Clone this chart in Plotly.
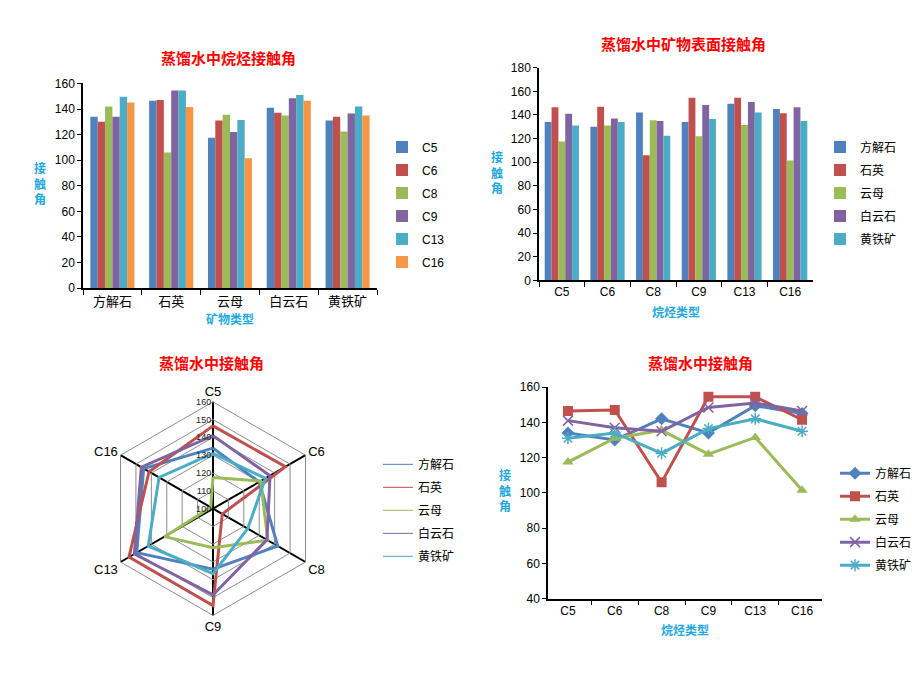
import plotly.graph_objects as go

# ---------------- data ----------------
alkanes = ["C5", "C6", "C8", "C9", "C13", "C16"]
minerals = ["方解石", "石英", "云母", "白云石", "黄铁矿"]

calcite = [134, 130, 142, 134, 149.5, 145]      # 方解石
quartz = [146.5, 147, 106, 154.5, 154.5, 141.5]  # 石英
mica = [117.5, 131, 135.5, 122, 131.5, 101.5]    # 云母
dolomite = [141, 137, 135, 148.5, 151, 146.5]    # 白云石
pyrite = [131, 134, 122.5, 136.5, 142, 135]      # 黄铁矿

mineral_values = [calcite, quartz, mica, dolomite, pyrite]

alkane_colors = ["#4F81BD", "#C0504D", "#9BBB59", "#8064A2", "#4BACC6", "#F79646"]
mineral_colors = ["#4F81BD", "#C0504D", "#9BBB59", "#8064A2", "#4BACC6"]
markers = ["diamond", "square", "triangle-up", "x-thin", "asterisk"]

W, H = 920, 690
FONT = "Liberation Sans, Noto Sans CJK SC, sans-serif"
CJK = "Noto Sans CJK SC, sans-serif"
TITLE_COLOR = "#FF0000"
AXT_COLOR = "#1FA8E0"


def px(x):
    return x / W


def py(y):
    return 1 - y / H


fig = go.Figure()

# ---- chart 1: bars by mineral, series = alkanes ----
for j, alk in enumerate(alkanes):
    fig.add_trace(go.Bar(
        x=minerals, y=[vals[j] for vals in mineral_values], name=alk,
        marker=dict(color=alkane_colors[j], line=dict(width=0)),
        xaxis="x", yaxis="y", legend="legend",
        legendgroup="a" + alk,
    ))

# ---- chart 2: bars by alkane, series = minerals ----
for i, m in enumerate(minerals):
    fig.add_trace(go.Bar(
        x=alkanes, y=mineral_values[i], name=m,
        marker=dict(color=mineral_colors[i], line=dict(width=0)),
        xaxis="x2", yaxis="y2", legend="legend2",
        legendgroup="b" + m,
    ))

# ---- chart 3: radar ----
for i, m in enumerate(minerals):
    r = mineral_values[i] + [mineral_values[i][0]]
    th = alkanes + [alkanes[0]]
    # thin legend-entry trace (hidden beneath the thick one)
    fig.add_trace(go.Scatterpolar(
        r=r, theta=th, mode="lines", name=m,
        line=dict(color=mineral_colors[i], width=1),
        subplot="polar", legend="legend3", legendgroup="c" + m,
    ))
for i, m in enumerate(minerals):
    r = mineral_values[i] + [mineral_values[i][0]]
    th = alkanes + [alkanes[0]]
    fig.add_trace(go.Scatterpolar(
        r=r, theta=th, mode="lines", name=m, showlegend=False,
        line=dict(color=mineral_colors[i], width=3),
        subplot="polar", legendgroup="c" + m,
    ))

# ---- chart 4: lines ----
for i, m in enumerate(minerals):
    sym = markers[i]
    mk = dict(symbol=sym, size=10, color=mineral_colors[i])
    if sym in ("x-thin", "asterisk"):
        mk["line"] = dict(color=mineral_colors[i], width=1.5)
    fig.add_trace(go.Scatter(
        x=alkanes, y=mineral_values[i], name=m, mode="lines+markers",
        line=dict(color=mineral_colors[i], width=3),
        marker=mk,
        xaxis="x3", yaxis="y3", legend="legend4",
        legendgroup="d" + m,
    ))


def xax(domain, anchor, size=12):
    return dict(domain=domain, anchor=anchor, type="category",
                showline=True, linecolor="#000", linewidth=1.5,
                ticks="outside", ticklen=5, tickcolor="#000", tickwidth=1,
                tickson="boundaries", showgrid=False, zeroline=False,
                tickfont=dict(family=FONT, size=size, color="#000"))


def yax(domain, anchor, rng):
    return dict(domain=domain, anchor=anchor, range=rng, dtick=20,
                showline=True, linecolor="#000", linewidth=1.5,
                ticks="outside", ticklen=4, tickcolor="#000", tickwidth=1,
                showgrid=False, zeroline=False,
                tickfont=dict(family=FONT, size=12, color="#000"))


leg_common = dict(xanchor="left", yanchor="top", bgcolor="rgba(0,0,0,0)",
                  traceorder="grouped", tracegroupgap=4, itemwidth=30,
                  font=dict(family=FONT, size=12, color="#000"))

fig.update_layout(
    width=W, height=H, margin=dict(l=0, r=0, t=0, b=0),
    paper_bgcolor="white", plot_bgcolor="white",
    barmode="group", bargap=0.25, bargroupgap=0,
    xaxis=xax([px(83), px(377)], "y", 13),
    yaxis=yax([py(287), py(78)], "x", [0, 160]),
    xaxis2=xax([px(539), px(813)], "y2"),
    yaxis2=yax([py(279), py(62)], "x2", [0, 180]),
    xaxis3=xax([px(548), px(822)], "y3"),
    yaxis3=yax([py(604), py(388)], "x3", [40, 160]),
    polar=dict(
        domain=dict(x=[px(104), px(322)], y=[py(621), py(403)]),
        gridshape="linear", bgcolor="white",
        radialaxis=dict(range=[100, 160], dtick=10, angle=90, tickangle=90,
                        showline=False, ticks="", gridcolor="#8c8c8c",
                        gridwidth=1, side="counterclockwise",
                        tickfont=dict(family=FONT, size=9, color="#222")),
        angularaxis=dict(rotation=90, direction="clockwise",
                         categoryorder="array", categoryarray=alkanes,
                         showline=True, linecolor="#8c8c8c", linewidth=1,
                         gridcolor="#000", gridwidth=1.5, ticks="",
                         tickfont=dict(family=FONT, size=13, color="#000")),
    ),
    legend=dict(x=px(382), y=py(128), **leg_common),
    legend2=dict(x=px(820), y=py(128), **leg_common),
    legend3=dict(x=px(378), y=py(452), **leg_common),
    legend4=dict(x=px(835), y=py(461), **leg_common),
    showlegend=True,
)

annotations = [
    # titles
    dict(text="<b>蒸馏水中烷烃接触角</b>", x=px(228), y=py(52)),
    dict(text="<b>蒸馏水中矿物表面接触角</b>", x=px(683), y=py(37)),
    dict(text="<b>蒸馏水中接触角</b>", x=px(211), y=py(363)),
    dict(text="<b>蒸馏水中接触角</b>", x=px(700), y=py(363)),
]
for a in annotations:
    a.update(xref="paper", yref="paper", showarrow=False,
             font=dict(family=CJK, size=15, color=TITLE_COLOR),
             xanchor="center", yanchor="middle")

axis_titles = [
    dict(text="<b>矿物类型</b>", x=px(230), y=py(318)),
    dict(text="<b>烷烃类型</b>", x=px(676), y=py(311)),
    dict(text="<b>烷烃类型</b>", x=px(685), y=py(635)),
    dict(text="<b>接<br>触<br>角</b>", x=px(40), y=py(180)),
    dict(text="<b>接<br>触<br>角</b>", x=px(497), y=py(168)),
    dict(text="<b>接<br>触<br>角</b>", x=px(505), y=py(493)),
]
for a in axis_titles:
    a.update(xref="paper", yref="paper", showarrow=False,
             font=dict(family=CJK, size=12, color=AXT_COLOR),
             xanchor="center", yanchor="middle")

fig.update_layout(annotations=annotations + axis_titles)

fig.write_html("out.html", config={"displayModeBar": False},
               post_script="document.body.style.margin='0';document.body.style.padding='0';")
